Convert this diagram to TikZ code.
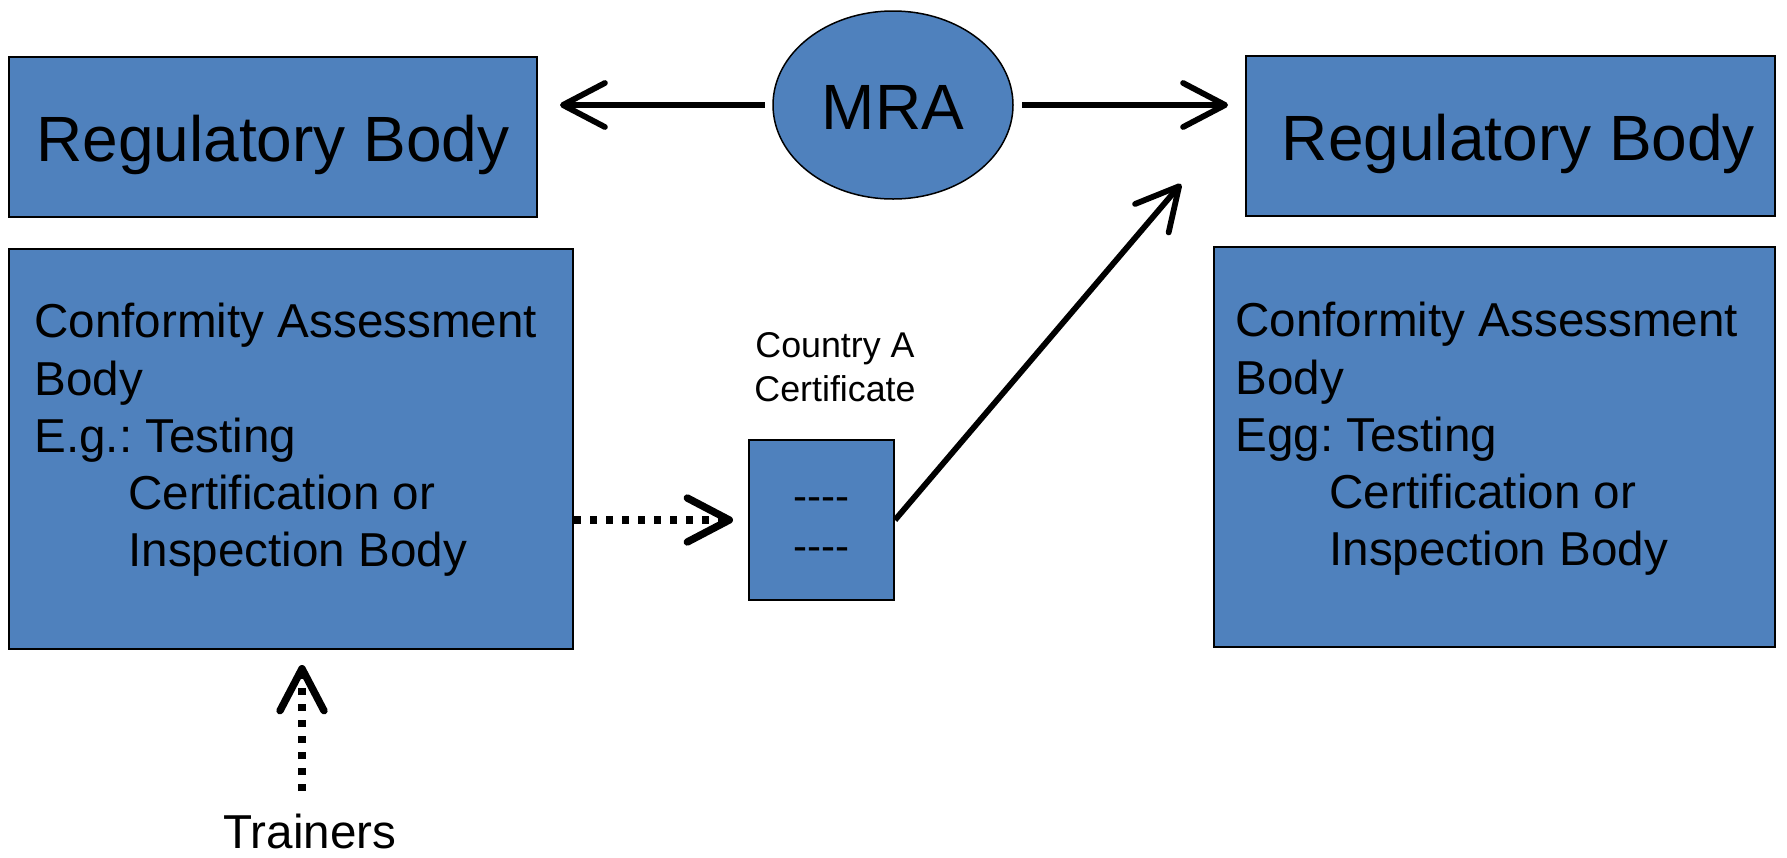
\documentclass[tikz,border=0pt]{standalone}
\usepackage{fontspec}
\setmainfont{Liberation Sans}
\usetikzlibrary{arrows.meta,shapes.geometric}
\definecolor{boxblue}{HTML}{4F81BD}
\begin{document}
\frenchspacing
\begin{tikzpicture}[x=0.5pt,y=-0.5pt,
  bluebox/.style={draw=black, line width=1pt, fill=boxblue, rectangle, inner sep=0pt},
  bigtext/.style={font=\fontsize{32pt}{38pt}\selectfont, text height=24.5pt, text depth=0pt},
  cabtext/.style={font=\fontsize{23.8pt}{28.6pt}\selectfont, align=left, inner sep=0pt, anchor=north west},
  smalltext/.style={font=\fontsize{17.9pt}{22pt}\selectfont, align=center, inner sep=0pt},
  dashtext/.style={font=\fontsize{21pt}{25pt}\selectfont, align=center, inner sep=0pt},
  solidarrow/.style={line width=2.9pt, -{Straight Barb[length=21pt,width=22pt,round]}},
  dotarrow/.style={line width=3.7pt, dash pattern=on 3.6pt off 4.4pt, -{Straight Barb[length=21pt,width=22pt,round]}},
]
\useasboundingbox (0,0) rectangle (1787,857);

% boxes
\node[bluebox, minimum width=264pt, minimum height=80pt, bigtext] (rbL) at (273,137) {Regulatory Body};
\node[bluebox, minimum width=264.5pt, minimum height=80pt, bigtext] (rbR) at (1510.5,136) {\hspace*{8pt}Regulatory Body};
\node[ellipse, draw=black, line width=0.75pt, fill=boxblue, minimum width=120pt, minimum height=94pt, inner sep=0pt, bigtext] (mra) at (893,105) {MRA};

\node[bluebox, minimum width=282pt, minimum height=200pt] (cabL) at (291,449) {};
\node[bluebox, minimum width=280.5pt, minimum height=200pt] (cabR) at (1494.5,447) {};

\node[cabtext] (cabLtext) at (34,303) {Conformity Assessment\\Body\\E.g.: Testing\\\hspace*{47pt}Certification or\\\hspace*{47pt}Inspection Body};
\node[cabtext] (cabRtext) at (1235,302) {Conformity Assessment\\Body\\Egg: Testing\\\hspace*{47pt}Certification or\\\hspace*{47pt}Inspection Body};

\node[bluebox, minimum width=72.5pt, minimum height=80pt] (cert) at (821.5,520) {};
\node[dashtext, yshift=-4.5pt] (certdash) at (cert.center) {-{}-{}-{}-\\-{}-{}-{}-};
\node[smalltext] (certlabel) at (835,367) {Country A\\Certificate};

\node[font=\fontsize{23.8pt}{28.6pt}\selectfont, inner sep=0pt, anchor=base] (trainers) at (310,848) {Trainers};

% connectors
\draw[solidarrow, shorten <=3.8pt, shorten >=11pt] (mra.west) -- (mra.west -| rbL.east);
\draw[solidarrow, shorten <=4.3pt, shorten >=8.5pt] (mra.east) -- (mra.east -| rbR.west);
\draw[dotarrow, shorten >=7.5pt] (cert.west -| cabL.east) -- (cert.west);
\coordinate (diagtip) at (1181,184);
\draw[solidarrow] (cert.east) -- (diagtip);
\coordinate (trstart) at (302,791);
\draw[dotarrow, shorten >=7.5pt] (trstart) -- (trstart |- cabL.south);
\end{tikzpicture}
\end{document}
